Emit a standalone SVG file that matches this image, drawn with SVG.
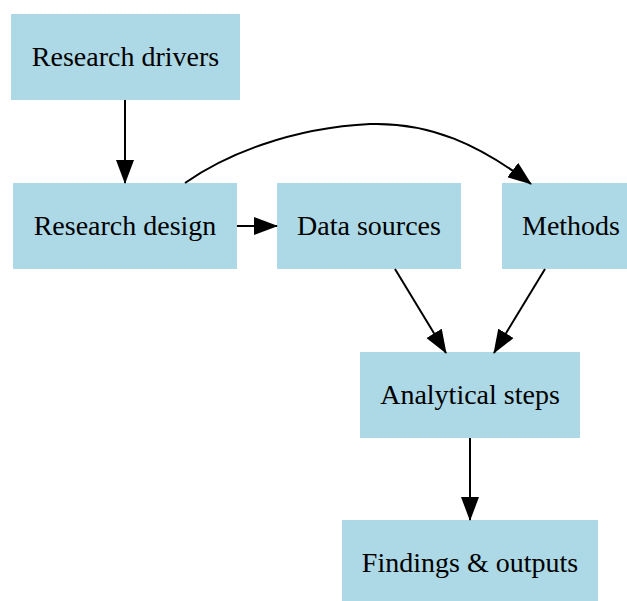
<svg xmlns="http://www.w3.org/2000/svg" width="627" height="601" viewBox="0 0 627 601">
<style>
.box{fill:#ADD8E6;stroke:none}
.lbl{font-family:"Liberation Serif","Times New Roman",serif;font-size:28px;fill:#000;text-anchor:middle}
.edge{fill:none;stroke:#000;stroke-width:2}
</style>
<defs>
<marker id="arr" viewBox="0 0 24 18" refX="23" refY="9" markerWidth="24" markerHeight="18" markerUnits="userSpaceOnUse" orient="auto">
<path d="M0,0 L24,9 L0,18 z" fill="#000"/>
</marker>
</defs>
<rect width="627" height="601" fill="#fff"/>
<g id="n_drivers"><rect class="box" x="11" y="14" width="229" height="86"/><text class="lbl" x="125.5" y="66">Research drivers</text></g>
<g id="n_design"><rect class="box" x="13" y="183" width="224" height="86"/><text class="lbl" x="125" y="235">Research design</text></g>
<g id="n_data"><rect class="box" x="277" y="183" width="184" height="86"/><text class="lbl" x="369" y="235">Data sources</text></g>
<g id="n_methods"><rect class="box" x="502" y="183" width="138" height="86"/><text class="lbl" x="571" y="235">Methods</text></g>
<g id="n_analytical"><rect class="box" x="360" y="352" width="220" height="86"/><text class="lbl" x="470" y="404">Analytical steps</text></g>
<g id="n_findings"><rect class="box" x="342" y="520" width="256" height="86"/><text class="lbl" x="470" y="572">Findings &amp; outputs</text></g>
<g id="edges">
<path class="edge" d="M125,100 L125,183" marker-end="url(#arr)"/>
<path class="edge" d="M237,226 L277,226" marker-end="url(#arr)"/>
<path class="edge" d="M185,183 C225,155 290,128 370,124 C430,122 480,145 531,184" marker-end="url(#arr)"/>
<path class="edge" d="M395,269 L446,353" marker-end="url(#arr)"/>
<path class="edge" d="M545,269 L494,353" marker-end="url(#arr)"/>
<path class="edge" d="M470,438 L470,520" marker-end="url(#arr)"/>
</g>
</svg>
